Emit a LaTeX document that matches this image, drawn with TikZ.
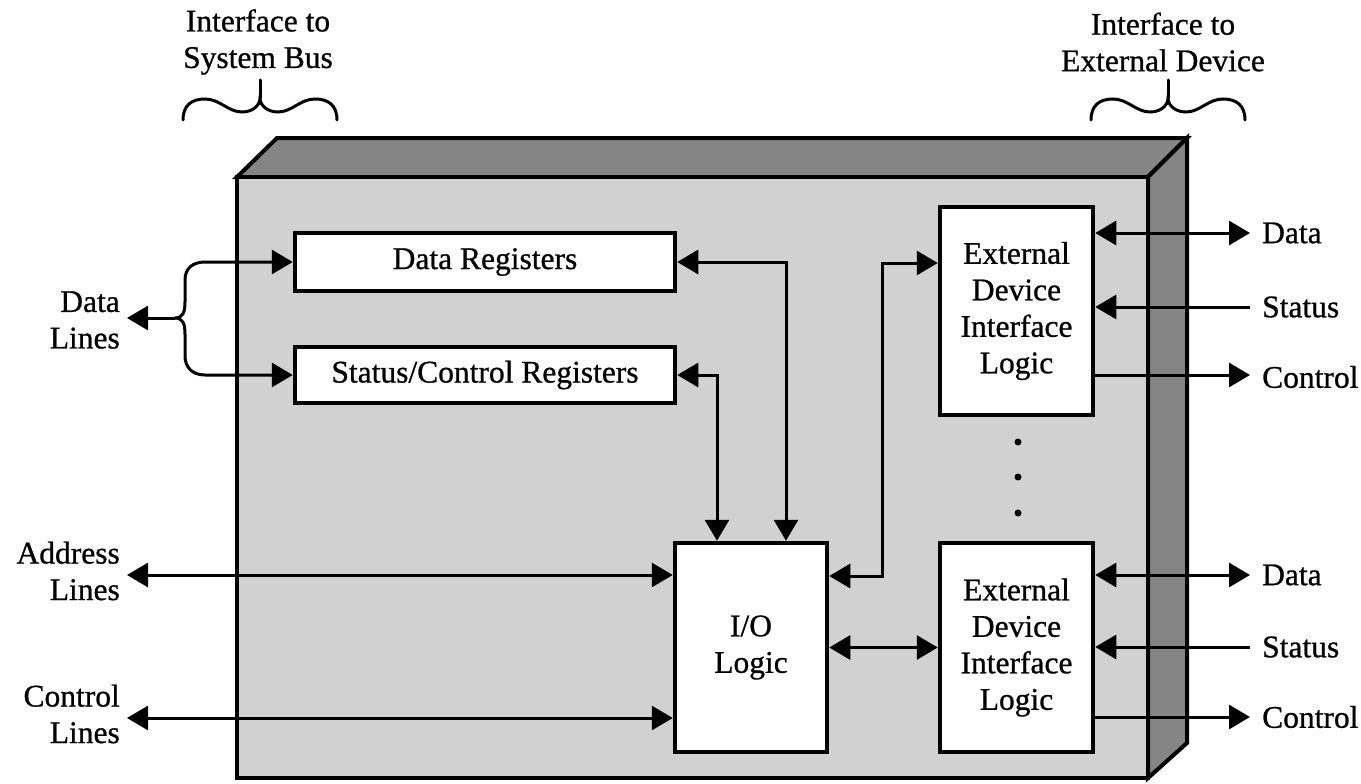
\documentclass[tikz,border=0pt]{standalone}
\usepackage{fontspec}
\setmainfont{Liberation Serif}[FakeBold=0.8]
\usetikzlibrary{arrows.meta}
\definecolor{frontgray}{gray}{0.82}
\definecolor{sidegray}{gray}{0.52}
\begin{document}
\begin{tikzpicture}[x=1pt,y=-1pt,
  font=\fontsize{31.5}{36.5}\selectfont,
  box/.style={draw,line width=4.5pt,fill=white,inner sep=0pt,align=center},
  arr/.style={line width=3pt,-{Triangle[length=21pt,width=24pt]}},
  darr/.style={line width=3pt,{Triangle[length=21pt,width=24pt]}-{Triangle[length=21pt,width=24pt]}},
  lbl/.style={inner sep=0pt,align=center},
  bracepath/.style={line width=3pt,line cap=round},
  face/.style={line width=4pt,line join=miter}]
\useasboundingbox (0,0) rectangle (1361,784);

% 3D housing
\filldraw[face,fill=sidegray] (237,177) -- (277,138) -- (1187,138) -- (1148,177) -- cycle;
\filldraw[face,fill=sidegray] (1148,177) -- (1187,138) -- (1187,743) -- (1148,778) -- cycle;
\filldraw[face,fill=frontgray] (237,177) rectangle (1148,778);

% braces
\begin{scope}[shift={(260,80)}]
\draw[bracepath] (-77,40) .. controls (-77,25) and (-68,19) .. (-55,19) .. controls (-40,19) and (-32,32) .. (-18,32) .. controls (-8,32) and (0,26) .. (0,18) .. controls (0,26) and (8,32) .. (18,32) .. controls (32,32) and (40,19) .. (55,19) .. controls (68,19) and (77,25) .. (77,40);
\draw[bracepath] (0,18) -- (0,0);
\end{scope}
\begin{scope}[shift={(1168,80)}]
\draw[bracepath] (-77,40) .. controls (-77,25) and (-68,19) .. (-55,19) .. controls (-40,19) and (-32,32) .. (-18,32) .. controls (-8,32) and (0,26) .. (0,18) .. controls (0,26) and (8,32) .. (18,32) .. controls (32,32) and (40,19) .. (55,19) .. controls (68,19) and (77,25) .. (77,40);
\draw[bracepath] (0,18) -- (0,0);
\end{scope}

% top labels
\node[lbl] (tsb) at (258,42) {Interface to\\System Bus};
\node[lbl] (ted) at (1163,42) {Interface to\\External Device};

% boxes
\node[box,minimum width=380pt,minimum height=58pt] (dr) at (485,262) {Data Registers};
\node[box,minimum width=380pt,minimum height=56pt] (scr) at (485,375) {Status/Control Registers};
\node[box,minimum width=152pt,minimum height=209pt] (io) at (751,647.5) {I/O\\Logic};
\node[box,minimum width=153pt,minimum height=208pt] (e1) at (1016.5,311) {External\\Device\\Interface\\Logic};
\node[box,minimum width=153pt,minimum height=209pt] (e2) at (1016.5,647.5) {External\\Device\\Interface\\Logic};

% helper coordinates
\coordinate (fork) at (175,318);
\coordinate (dl) at (127,318);
\coordinate (al) at (127,575);
\coordinate (cl) at (127,718);
\coordinate (xL) at (717,0);
\coordinate (xR) at (786,0);
\coordinate (yIO) at (0,576);
\coordinate (bend) at (882,263);
\coordinate (d1) at (1250,233);
\coordinate (s1) at (1250,307);
\coordinate (c1) at (1250,375);
\coordinate (d2) at (1250,575);
\coordinate (s2) at (1250,647);
\coordinate (c2) at (1250,717);

% left side labels
\node[lbl,anchor=east,align=right] (ldl) at (120,320) {Data\\Lines};
\node[lbl,anchor=east,align=right] (lal) at (120,571) {Address\\Lines};
\node[lbl,anchor=east,align=right] (lcl) at (120,714) {Control\\Lines};

% data lines fork
\draw[arr] (fork) -- (dl);
\draw[arr] (fork) .. controls (183,318) and (185,312) .. (185,302) -- (185,280) .. controls (185,269) and (192,262) .. (205,262) -- (dr.west);
\draw[arr] (fork) .. controls (183,318) and (185,324) .. (185,334) -- (185,356) .. controls (185,367) and (192,375) .. (205,375) -- (scr.west);

% bus lines
\draw[darr] (al) -- (io.west |- al);
\draw[darr] (cl) -- (io.west |- cl);

% registers to I/O logic
\draw[darr] (dr.east) -| (io.north -| xR);
\draw[darr] (scr.east) -| (io.north -| xL);

% I/O logic to external device logic
\draw[darr] (io.east |- yIO) -| (bend) -- (e1.west |- bend);
\draw[darr] (io.east) -- (e2.west);

% external side
\draw[darr] (e1.east |- d1) -- (d1);
\draw[arr] (s1) -- (e1.east |- s1);
\draw[arr] (e1.east |- c1) -- (c1);
\draw[darr] (e2.east |- d2) -- (d2);
\draw[arr] (s2) -- (e2.east |- s2);
\draw[arr] (e2.east |- c2) -- (c2);

\node[lbl,anchor=west] (ld1) at (1262,233) {Data};
\node[lbl,anchor=west] (ls1) at (1262,307) {Status};
\node[lbl,anchor=west] (lc1) at (1262,377) {Control};
\node[lbl,anchor=west] (ld2) at (1262,575) {Data};
\node[lbl,anchor=west] (ls2) at (1262,647) {Status};
\node[lbl,anchor=west] (lc2) at (1262,717) {Control};

% dots
\node[circle,fill,inner sep=0pt,minimum size=7pt] (dot1) at (1018,442) {};
\node[circle,fill,inner sep=0pt,minimum size=7pt] (dot2) at (1018,477) {};
\node[circle,fill,inner sep=0pt,minimum size=7pt] (dot3) at (1018,513) {};
\end{tikzpicture}
\end{document}
